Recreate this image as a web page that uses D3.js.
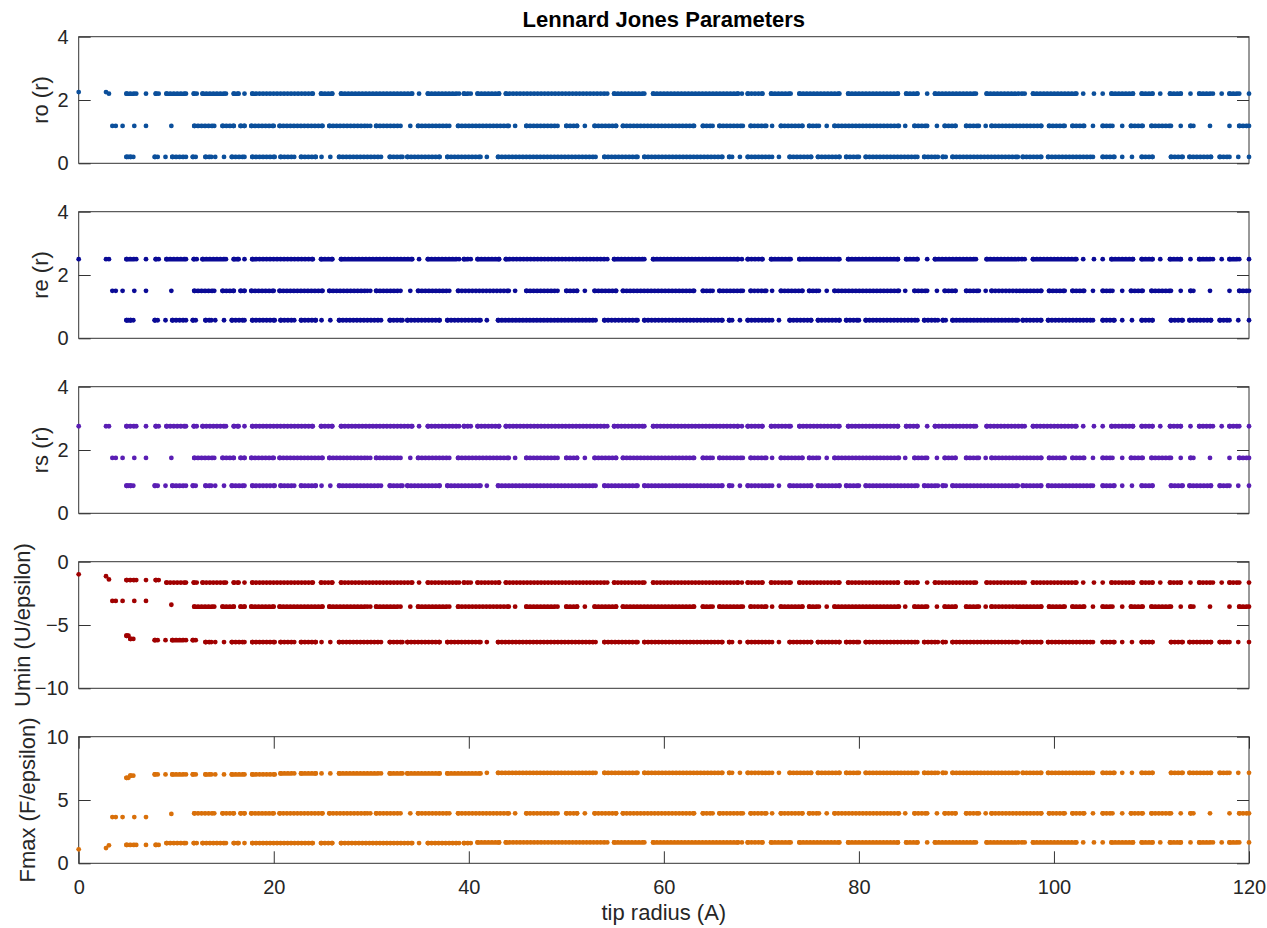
<!DOCTYPE html>
<html>
<head>
<meta charset="utf-8">
<script src="https://cdn.jsdelivr.net/npm/d3@7"></script>
<style>
  html, body { margin: 0; padding: 0; background: #fff; }
  svg { display: block; font-family: "Liberation Sans", Arial, Helvetica, sans-serif; }
</style>
</head>
<body>
<svg id="chart" width="1267" height="928"></svg>
<script>
// x ranges (tip radius, A) where each of the three parameter groups has results.
// Single entries are written as [x, x].
const runsA = [[0,0],[2.8,2.8],[3.1,3.1],[4.9,5.9],[6.9,6.9],[7.9,8.2],[9.0,11.0],[11.8,12.1],[12.7,15.1],
  [15.9,16.4],[17.0,17.0],[17.8,24.0],[24.85,26.0],[26.9,34.2],[34.9,34.9],[35.8,39.0],[39.5,40.2],[40.9,43.1],
  [43.8,54.2],[54.9,58.0],[58.9,67.6],[68.0,68.0],[68.6,70.1],[71.0,73.0],[73.9,78.0],[78.9,84.0],[84.85,86.0],
  [87.0,87.0],[87.8,92.0],[93.1,97.0],[97.85,102.3],[103.0,103.0],[104.1,104.1],[105.0,105.0],[105.9,108.1],
  [109.0,110.1],[110.9,110.9],[111.9,113.0],[114.0,114.0],[114.9,116.3],[117.2,117.2],[118.0,119.0],[120,120]];
const runsB = [[3.45,3.45],[3.8,3.8],[4.5,4.5],[5.7,5.7],[6.9,6.9],[9.5,9.5],[11.85,13.9],[14.75,15.9],[16.6,17.0],
  [17.7,20.0],[20.6,25.0],[25.7,29.6],[29.9,29.9],[30.5,33.0],[34.0,34.0],[34.8,38.0],[38.9,44.1],[44.75,44.75],
  [45.9,49.1],[50.0,51.1],[51.9,51.9],[52.9,55.1],[55.8,63.1],[64.0,65.0],[65.7,68.1],[68.9,70.5],[71.1,71.1],
  [72.0,74.2],[74.9,75.9],[76.7,76.7],[77.5,84.1],[84.75,84.75],[85.7,87.0],[88.0,88.0],[88.8,89.9],[91.0,92.3],
  [93.0,93.0],[93.6,98.7],[99.5,101.1],[101.9,103.1],[104.0,104.0],[105.0,106.0],[107.0,107.0],[107.9,109.1],
  [110.0,112.0],[113.0,113.0],[114.0,114.3],[116.0,116.0],[118.0,118.0],[119.0,120.0]];
const runsC = [[4.9,5.1],[5.3,5.6],[7.8,8.1],[8.9,8.9],[9.6,11.0],[11.7,12.0],[13.0,13.6],[14.0,14.0],[14.9,14.9],
  [15.7,17.0],[17.8,20.1],[20.7,22.1],[22.8,24.3],[24.9,24.9],[25.8,25.8],[26.7,31.0],[31.9,33.2],[33.7,37.0],
  [37.8,41.2],[41.85,41.85],[43.0,53.0],[53.9,57.3],[58.0,66.0],[66.7,67.0],[67.8,67.8],[68.6,71.1],[71.8,71.8],
  [72.9,75.1],[75.8,78.0],[78.7,80.0],[80.7,86.0],[86.7,88.1],[88.6,88.9],[89.6,96.3],[96.8,98.7],[99.4,104.0],
  [105.0,106.2],[107.0,107.0],[108.0,108.0],[109.0,110.1],[112.0,113.2],[113.9,116.1],[117.0,118.0],[118.9,118.9],
  [120.0,120.0]];

// Parameter values per group, as [from x, value] steps (groups A, B, C).
const roLevels   = [[[0,2.25],[3.1,2.2]], [[0,1.18]], [[0,0.2]]];
const reLevels   = [[[0,2.5]], [[0,1.5]], [[0,0.57]]];
const rsLevels   = [[[0,2.75]], [[0,1.75]], [[0,0.87]]];
const uminLevels = [[[0,-1.0],[2.8,-1.15],[3.1,-1.4],[4.9,-1.45],[9,-1.65]],
                    [[0,-3.1],[9.5,-3.4],[11.8,-3.55]],
                    [[0,-5.85],[5.3,-6.1],[7.8,-6.2],[13,-6.35]]];
const fmaxLevels = [[[0,1.1],[2.8,1.2],[3.1,1.42],[4.9,1.45],[9,1.6],[40,1.65]],
                    [[0,3.65],[9.5,3.9],[11.8,3.95]],
                    [[0,6.75],[5.3,6.92],[7.8,7.02],[20,7.1],[40,7.15]]];

const panelLabels = ["ro (r)", "re (r)", "rs (r)", "Umin (U/epsilon)", "Fmax (F/epsilon)"];
const panelDomains = [[0,4],[0,4],[0,4],[-10,0],[0,10]];
const panelTicks = [[0,2,4],[0,2,4],[0,2,4],[-10,-5,0],[0,5,10]];
const panelColors = ["#0b4f9b", "#0a0a96", "#5a1eb4", "#a00000", "#d9700a"];
const xTicks = [0,20,40,60,80,100,120];
const titleText = "Lennard Jones Parameters";
const xLabelText = "tip radius (A)";

const svg = d3.select("#chart");
const left = 78.7, right = 1249, top0 = 36.7, step = 175, ph = 126.6;
const tickLen = 12;
const axisColor = "#333333", textColor = "#262626";
const tickFont = "20px", labelFont = "22px";
const labelX = [48, 48, 48, 29.5, 35];

const x = d3.scaleLinear().domain([0,120]).range([left, right]);
const fmt = d3.format("d");

const groupRuns = [runsA, runsB, runsC];
const panelLevels = [roLevels, reLevels, rsLevels, uminLevels, fmaxLevels];

function levelAt(steps, xv) {
  let v = steps[0][1];
  for (const s of steps) if (s[0] <= xv + 1e-9) v = s[1];
  return v;
}

function styleAxis(a) {
  a.select(".domain").remove();
  a.selectAll("line").attr("stroke", axisColor);
  a.selectAll("text").attr("fill", textColor).style("font-size", tickFont).attr("font-family", null);
}

panelLabels.forEach((label, i) => {
  const top = top0 + i * step;
  const y = d3.scaleLinear().domain(panelDomains[i]).range([top + ph, top]);
  const g = svg.append("g");
  const last = i === panelLabels.length - 1;

  // box
  g.append("rect").attr("x", left).attr("y", top).attr("width", right - left).attr("height", ph)
    .attr("fill", "none").attr("stroke", axisColor).attr("stroke-width", 1);

  // y ticks on both sides
  const yl = d3.axisLeft(y).tickValues(panelTicks[i]).tickFormat(fmt)
    .tickSizeInner(-tickLen).tickSizeOuter(0).tickPadding(10);
  styleAxis(g.append("g").attr("transform", `translate(${left},0)`).call(yl));
  const yr = d3.axisRight(y).tickValues(panelTicks[i]).tickFormat("")
    .tickSizeInner(-tickLen).tickSizeOuter(0);
  styleAxis(g.append("g").attr("transform", `translate(${right},0)`).call(yr));

  if (last) {
    const xb = d3.axisBottom(x).tickValues(xTicks).tickFormat(fmt)
      .tickSizeInner(-tickLen).tickSizeOuter(0).tickPadding(17);
    styleAxis(g.append("g").attr("transform", `translate(0,${top + ph})`).call(xb));
    const xt = d3.axisTop(x).tickValues(xTicks).tickFormat("")
      .tickSizeInner(-tickLen).tickSizeOuter(0);
    styleAxis(g.append("g").attr("transform", `translate(0,${top})`).call(xt));
  }

  // y label
  g.append("text")
    .attr("transform", `translate(${labelX[i]},${top + ph / 2}) rotate(-90)`)
    .attr("text-anchor", "middle")
    .attr("fill", textColor)
    .style("font-size", labelFont)
    .text(label);

  // markers: each run drawn as a beaded row of dots
  const color = panelColors[i];
  groupRuns.forEach((runs, gi) => {
    const steps = panelLevels[i][gi];
    const data = runs.map(r => ({ x0: r[0], x1: r[1], v: levelAt(steps, r[0]) }));
    const mg = g.append("g").attr("fill", color).attr("stroke", color);
    mg.selectAll("line").data(data.filter(d => d.x1 > d.x0)).join("line")
      .attr("x1", d => x(d.x0)).attr("x2", d => x(d.x1))
      .attr("y1", d => y(d.v)).attr("y2", d => y(d.v))
      .attr("stroke-width", 4.8).attr("stroke-linecap", "round")
      .attr("stroke-dasharray", "0.6 2.9");
    mg.selectAll("circle").data(data.flatMap(d => d.x1 > d.x0 ? [{x: d.x0, v: d.v}, {x: d.x1, v: d.v}] : [{x: d.x0, v: d.v}]))
      .join("circle")
      .attr("cx", d => x(d.x)).attr("cy", d => y(d.v)).attr("r", 2.4).attr("stroke", "none");
  });
});

// title and x label
svg.append("text").attr("x", (left + right) / 2).attr("y", 27)
  .attr("text-anchor", "middle").attr("fill", "#000").style("font-size", labelFont).style("font-weight", "bold")
  .text(titleText);
svg.append("text").attr("x", (left + right) / 2).attr("y", 920)
  .attr("text-anchor", "middle").attr("fill", textColor).style("font-size", labelFont)
  .text(xLabelText);
</script>
</body>
</html>
